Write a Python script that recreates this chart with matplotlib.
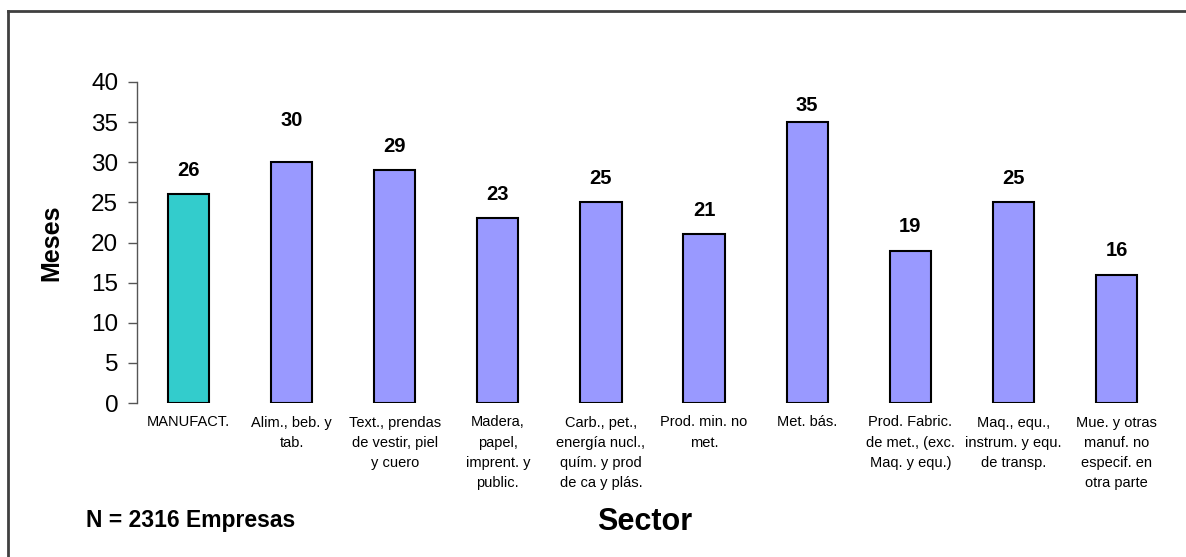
import matplotlib
matplotlib.use('Agg')
import matplotlib.pyplot as plt
from matplotlib.lines import Line2D

plt.rcParams['font.family'] = ['Liberation Sans', 'DejaVu Sans']

sectors = ['MANUFACT.',
           'Alim., beb. y\ntab.',
           'Text., prendas\nde vestir, piel\ny cuero',
           'Madera,\npapel,\nimprent. y\npublic.',
           'Carb., pet.,\nenergía nucl.,\nquím. y prod\nde ca y plás.',
           'Prod. min. no\nmet.',
           'Met. bás.',
           'Prod. Fabric.\nde met., (exc.\nMaq. y equ.)',
           'Maq., equ.,\ninstrum. y equ.\nde transp.',
           'Mue. y otras\nmanuf. no\nespecif. en\notra parte']
meses = [26, 30, 29, 23, 25, 21, 35, 19, 25, 16]
yticks = [0, 5, 10, 15, 20, 25, 30, 35, 40]

colors = ['#33CCCC'] + ['#9999FF'] * (len(meses) - 1)
# label offsets in points above the bar (two labels sit off the usual spot)
label_offset = [17, 30, 17, 17, 17, 17, 12, 17, 17, 17]

fig = plt.figure(figsize=(11.86, 5.57), dpi=100)
ax = fig.add_axes([137 / 1186, 1 - 403 / 557, 1031 / 1186, 321 / 557])

x = list(range(len(meses)))
ax.bar(x, meses, width=0.40, color=colors, edgecolor='black', linewidth=1.5)

for xi, v, off in zip(x, meses, label_offset):
    ax.annotate(str(v), (xi, v), xytext=(0, off), textcoords='offset points',
                ha='center', va='center', fontsize=14.5, fontweight='bold')

ax.set_xlim(-0.5, len(meses) - 0.5)
ax.set_ylim(0, 40)
ax.set_yticks(yticks)
ax.tick_params(axis='y', labelsize=17.5, length=6.5, width=1, color='#555555', pad=7)
ax.set_xticks(x)
ax.set_xticklabels(sectors, fontsize=10.5, linespacing=1.55, va='top')
ax.tick_params(axis='x', length=0, pad=9)

for s in ['top', 'right', 'bottom']:
    ax.spines[s].set_visible(False)
ax.spines['left'].set_color('#555555')
ax.spines['left'].set_linewidth(1)

ax.set_ylabel('Meses', fontsize=18, fontweight='bold', labelpad=20)

fig.text(86 / 1186, 1 - 520 / 557, 'N = 2316 Empresas', fontsize=16.5,
         fontweight='bold', ha='left', va='center')
fig.text(645 / 1186, 1 - 522 / 557, 'Sector', fontsize=22,
         fontweight='bold', ha='center', va='center')

# chart frame, only top and left edges are inside the image
fig.add_artist(Line2D([8 / 1186, 1], [1 - 10.5 / 557] * 2, color='#404040', lw=2))
fig.add_artist(Line2D([8 / 1186] * 2, [0, 1 - 10.5 / 557], color='#404040', lw=2))

fig.savefig('out.png', dpi=100)
